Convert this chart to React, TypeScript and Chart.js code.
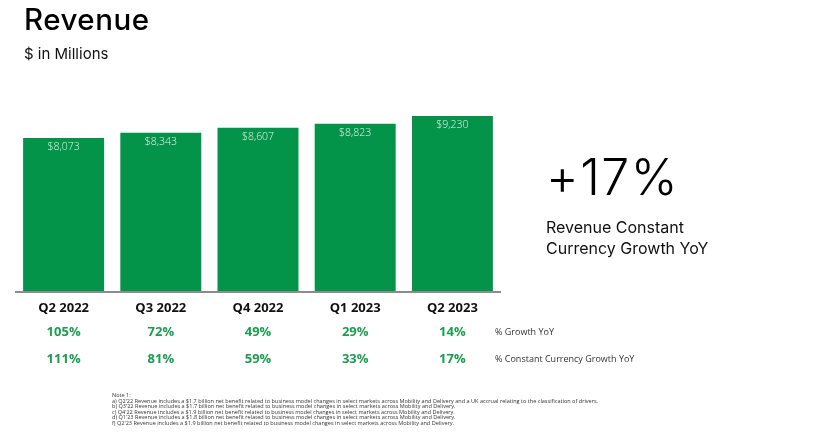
import React, { useEffect, useRef } from "react";
import { Chart, registerables } from "chart.js";

Chart.register(...registerables);

const categories = ["Q2 2022", "Q3 2022", "Q4 2022", "Q1 2023", "Q2 2023"];
const revenue = [8073, 8343, 8607, 8823, 9230];
const growthYoY = [105, 72, 49, 29, 14];
const constantCurrencyGrowthYoY = [111, 81, 59, 33, 17];
const rowLabels = ["% Growth YoY", "% Constant Currency Growth YoY"];
const yMax = 10000;
const title = "Revenue";
const subtitle = "$ in Millions";
const headline = "+17%";
const headlineCaption = ["Revenue Constant", "Currency Growth YoY"];
const notes = [
  "Note 1:",
  "a) Q2'22 Revenue includes a $1.7 billion net benefit related to business model changes in select markets across Mobility and Delivery and a UK accrual relating to the classification of drivers.",
  "b) Q3'22 Revenue includes a $1.7 billion net benefit related to business model changes in select markets across Mobility and Delivery.",
  "c) Q4'22 Revenue includes a $1.9 billion net benefit related to business model changes in select markets across Mobility and Delivery.",
  "d) Q1'23 Revenue includes a $1.8 billion net benefit related to business model changes in select markets across Mobility and Delivery.",
  "f) Q2'23 Revenue includes a $1.9 billion net benefit related to business model changes in select markets across Mobility and Delivery.",
];

const GREEN = "#03944a";
const TEXT_GREEN = "#1b9e4f";
const FONT = "'Open Sans', sans-serif";
const HFONT = "Inter, 'Open Sans', sans-serif";

const fmt = (v: number) => "$" + v.toLocaleString("en-US");

const overlayPlugin = {
  id: "overlay",
  afterDatasetsDraw(chart: any) {
    const { ctx, chartArea } = chart;
    const xs = chart.scales.x;
    const meta = chart.getDatasetMeta(0);
    ctx.save();
    // axis line
    ctx.strokeStyle = "#8c8c8c";
    ctx.lineWidth = 2;
    ctx.beginPath();
    ctx.moveTo(chartArea.left, chartArea.bottom + 1);
    ctx.lineTo(chartArea.right, chartArea.bottom + 1);
    ctx.stroke();

    ctx.textAlign = "center";
    ctx.textBaseline = "middle";
    // value labels inside bars
    ctx.font = `300 10.5px ${FONT}`;
    ctx.fillStyle = "rgba(255,255,255,0.88)";
    meta.data.forEach((bar: any, i: number) => {
      ctx.fillText(fmt(revenue[i]), bar.x, bar.y + 9);
    });
    // category labels
    ctx.font = `700 13px ${FONT}`;
    ctx.fillStyle = "#111";
    categories.forEach((c, i) => {
      ctx.fillText(c, xs.getPixelForValue(i), chartArea.bottom + 17);
    });
    // growth rows
    const rows = [growthYoY, constantCurrencyGrowthYoY];
    rows.forEach((row, r) => {
      const y = chartArea.bottom + 41 + r * 27;
      ctx.font = `700 13px ${FONT}`;
      ctx.fillStyle = TEXT_GREEN;
      ctx.textAlign = "center";
      row.forEach((v, i) => {
        ctx.fillText(v + "%", xs.getPixelForValue(i), y);
      });
      ctx.font = `400 9px ${FONT}`;
      ctx.fillStyle = "#333";
      ctx.textAlign = "left";
      ctx.fillText(rowLabels[r], chartArea.right - 6, y);
    });
    ctx.restore();
  },
};

export default function App() {
  const ref = useRef<HTMLCanvasElement>(null);
  useEffect(() => {
    if (!ref.current) return;
    const chart = new Chart(ref.current, {
      type: "bar",
      data: {
        labels: categories,
        datasets: [
          {
            label: "Revenue",
            data: revenue,
            backgroundColor: GREEN,
            borderWidth: 0,
            barPercentage: 0.833,
            categoryPercentage: 1,
          },
        ],
      },
      options: {
        responsive: false,
        animation: false,
        devicePixelRatio: 1,
        layout: { padding: { left: 15, right: 337, top: 101.4, bottom: 147 } },
        plugins: { legend: { display: false }, tooltip: { enabled: false }, title: { display: false } },
        scales: {
          x: { display: false },
          y: { display: false, min: 0, max: yMax },
        },
      },
      plugins: [overlayPlugin],
    });
    return () => chart.destroy();
  }, []);

  const abs = (s: React.CSSProperties): React.CSSProperties => ({ position: "absolute", margin: 0, whiteSpace: "nowrap", lineHeight: 1, fontFamily: FONT, ...s });

  return (
    <div style={{ position: "absolute", left: 0, top: 0, width: 838, height: 438, background: "#fff", overflow: "hidden" }}>
      <canvas ref={ref} width={838} height={438} style={{ position: "absolute", left: 0, top: 0, width: 838, height: 438 }} />
      <div style={abs({ left: 24, top: 5, fontSize: 29.5, fontWeight: 500, letterSpacing: 0.5, color: "#000", fontFamily: HFONT })}>{title}</div>
      <div style={abs({ left: 24, top: 46, fontSize: 15, color: "#111", fontFamily: HFONT })}>{subtitle}</div>
      <div style={abs({ left: 546, top: 152, fontSize: 50, fontWeight: 300, letterSpacing: 1.5, color: "#000", fontFamily: HFONT })}>{headline}</div>
      <div style={abs({ left: 546, top: 217, fontSize: 16, lineHeight: "21px", color: "#111", fontFamily: HFONT })}>
        {headlineCaption.map((l, i) => (
          <div key={i}>{l}</div>
        ))}
      </div>
      <div style={abs({ left: 112, top: 393, fontSize: 5.55, lineHeight: "5.6px", color: "#333" })}>
        {notes.map((l, i) => (
          <div key={i}>{l}</div>
        ))}
      </div>
    </div>
  );
}
